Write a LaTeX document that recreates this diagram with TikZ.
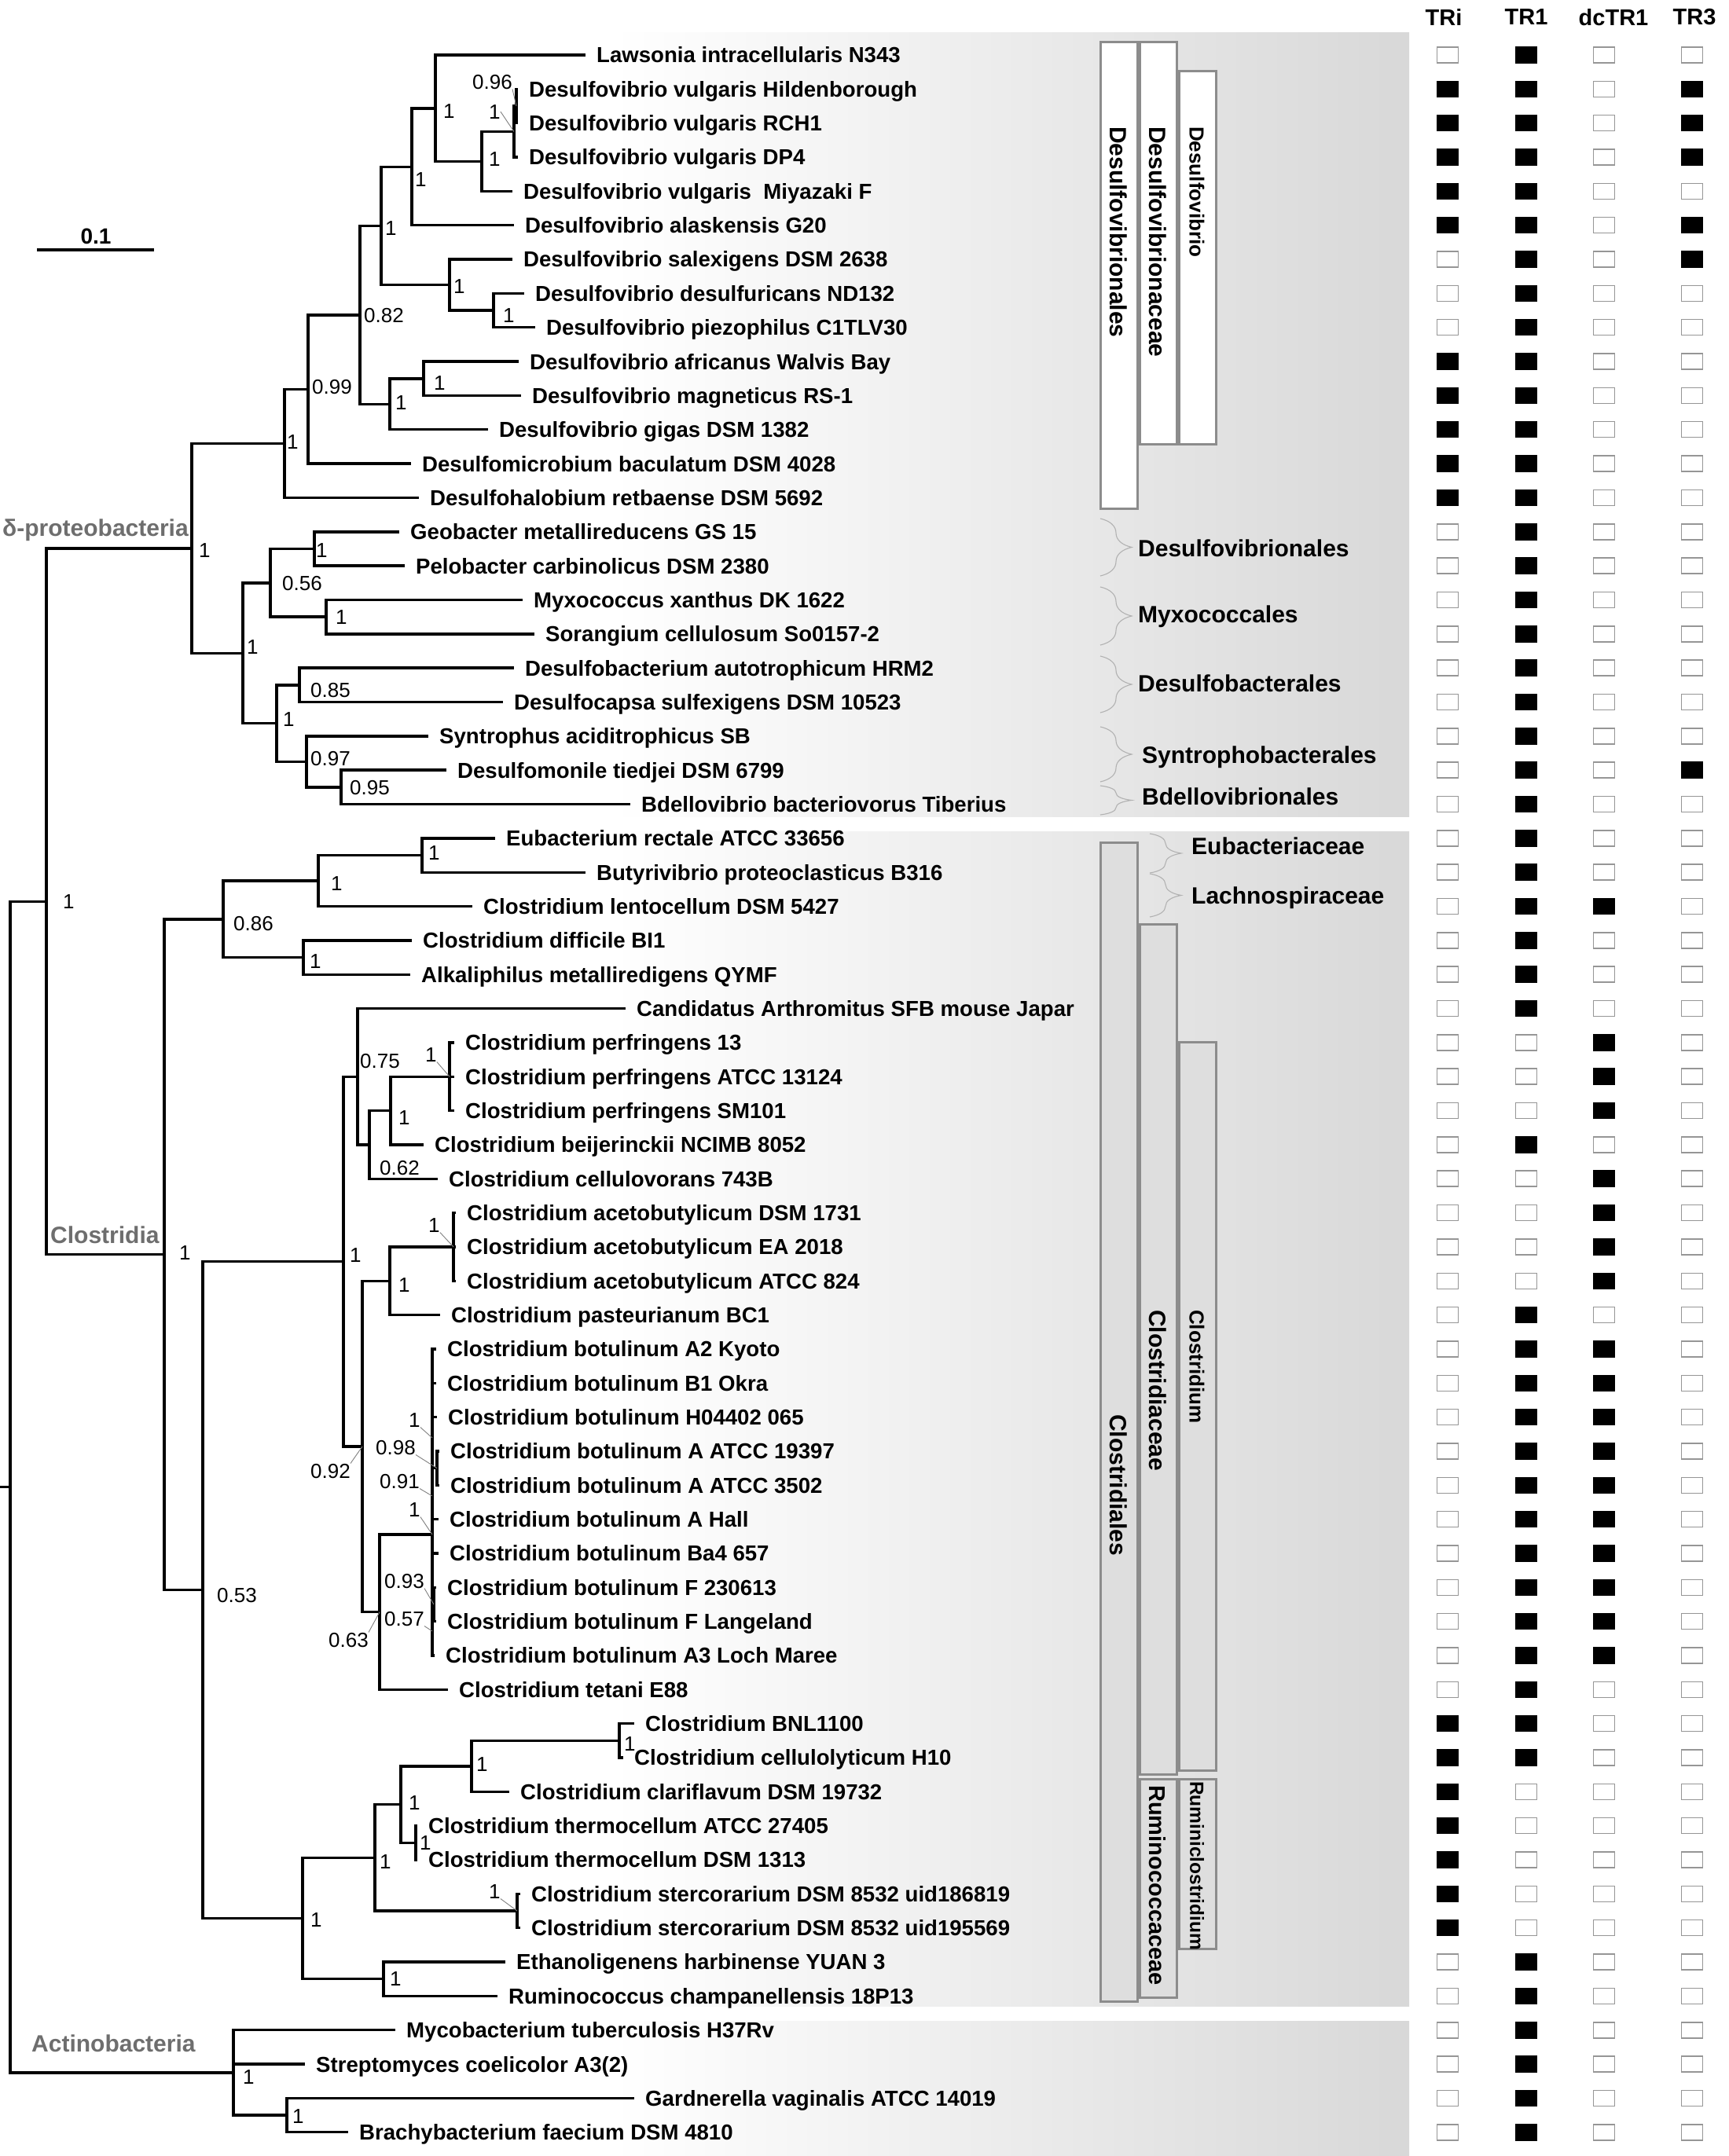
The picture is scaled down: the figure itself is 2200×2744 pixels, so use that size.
\documentclass[tikz,border=0pt]{standalone}
\usepackage{fontspec}
\setmainfont{Liberation Sans}
\usepackage{xcolor}
\usetikzlibrary{decorations.pathreplacing}

\definecolor{cladegray}{RGB}{110,110,110}
\definecolor{bargray}{RGB}{140,140,140}
\definecolor{barfill}{RGB}{222,222,222}
\definecolor{panelgray}{RGB}{216,216,216}
\definecolor{boxgray}{RGB}{150,150,150}
\colorlet{c0}{white}
\colorlet{c1}{black}
\colorlet{d0}{boxgray}
\colorlet{d1}{black}

\begin{document}
\begin{tikzpicture}[x=1pt, y=-1pt,
    leaf/.style={anchor=west, inner xsep=14pt, inner ysep=0pt, text height=19.8pt, text depth=0pt, font=\bfseries\fontsize{27.6}{30}\selectfont},
    boot/.style={anchor=west, inner sep=0pt, text height=18.6pt, text depth=0pt, font=\fontsize{26}{28}\selectfont},
    branch/.style={line width=3.4pt},
    leader/.style={draw=gray, line width=0.9pt},
    clade/.style={anchor=west, inner sep=0pt, text height=21.5pt, text depth=0pt, text=cladegray, font=\bfseries\fontsize{30}{32}\selectfont},
    group/.style={anchor=west, inner sep=0pt, text height=21.5pt, text depth=0pt, font=\bfseries\fontsize{30}{32}\selectfont},
    gbrace/.style={decorate, decoration={brace, amplitude=40pt}, draw=gray!60, line width=1.1pt},
    taxbar/.style={draw=bargray, line width=3pt},
    bartext/.style={rotate=-90, anchor=west, inner sep=0pt, text height=21.5pt, text depth=0pt, font=\bfseries\fontsize{30}{32}\selectfont},
    cbox/.style={minimum width=27pt, minimum height=20pt, inner sep=0pt, line width=1.5pt},
    head/.style={inner sep=0pt, font=\bfseries\fontsize{29}{30}\selectfont}]

    \fill[white] (0,0) rectangle (2200,2744);
    \useasboundingbox (0,0) rectangle (2200,2744);

    % Background panels
    \shade[left color=white, right color=panelgray] (780,41) rectangle (1793,1039);
    \shade[left color=white, right color=panelgray] (780,1058) rectangle (1793,2553);
    \shade[left color=white, right color=panelgray] (780,2572) rectangle (1793,2744);

    % Scale bar
    \node[font=\bfseries\fontsize{28}{30}\selectfont, inner sep=0pt] (sblabel) at (122,301) {0.1};
    \coordinate (sbA) at (47,318);
    \coordinate (sbB) at (196,318);
    \draw[line width=4pt] (sbA) -- (sbB);

    % Leaves
    \node[leaf] (l1) at (745,70.0) {Lawsonia intracellularis N343};
    \node[leaf] (l2) at (659,113.3) {Desulfovibrio vulgaris Hildenborough};
    \node[leaf] (l3) at (659,156.7) {Desulfovibrio vulgaris RCH1};
    \node[leaf] (l4) at (659,200.0) {Desulfovibrio vulgaris DP4};
    \node[leaf] (l5) at (652,243.4) {Desulfovibrio vulgaris\ \ Miyazaki F};
    \node[leaf] (l6) at (654,286.7) {Desulfovibrio alaskensis G20};
    \node[leaf] (l7) at (652,330.0) {Desulfovibrio salexigens DSM 2638};
    \node[leaf] (l8) at (667,373.4) {Desulfovibrio desulfuricans ND132};
    \node[leaf] (l9) at (681,416.7) {Desulfovibrio piezophilus C1TLV30};
    \node[leaf] (l10) at (660,460.1) {Desulfovibrio africanus Walvis Bay};
    \node[leaf] (l11) at (663,503.4) {Desulfovibrio magneticus RS-1};
    \node[leaf] (l12) at (621,546.7) {Desulfovibrio gigas DSM 1382};
    \node[leaf] (l13) at (523,590.1) {Desulfomicrobium baculatum DSM 4028};
    \node[leaf] (l14) at (533,633.4) {Desulfohalobium retbaense DSM 5692};
    \node[leaf] (l15) at (508,676.8) {Geobacter metallireducens GS 15};
    \node[leaf] (l16) at (515,720.1) {Pelobacter carbinolicus DSM 2380};
    \node[leaf] (l17) at (665,763.4) {Myxococcus xanthus DK 1622};
    \node[leaf] (l18) at (680,806.8) {Sorangium cellulosum So0157-2};
    \node[leaf] (l19) at (654,850.1) {Desulfobacterium autotrophicum HRM2};
    \node[leaf] (l20) at (640,893.5) {Desulfocapsa sulfexigens DSM 10523};
    \node[leaf] (l21) at (545,936.8) {Syntrophus aciditrophicus SB};
    \node[leaf] (l22) at (568,980.1) {Desulfomonile tiedjei DSM 6799};
    \node[leaf] (l23) at (802,1023.5) {Bdellovibrio bacteriovorus Tiberius};
    \node[leaf] (l24) at (630,1066.8) {Eubacterium rectale ATCC 33656};
    \node[leaf] (l25) at (745,1110.2) {Butyrivibrio proteoclasticus B316};
    \node[leaf] (l26) at (601,1153.5) {Clostridium lentocellum DSM 5427};
    \node[leaf] (l27) at (524,1196.8) {Clostridium difficile BI1};
    \node[leaf] (l28) at (522,1240.2) {Alkaliphilus metalliredigens QYMF};
    \node[leaf] (l29) at (796,1283.5) {Candidatus Arthromitus SFB mouse Japar};
    \node[leaf] (l30) at (578,1326.9) {Clostridium perfringens 13};
    \node[leaf] (l31) at (578,1370.2) {Clostridium perfringens ATCC 13124};
    \node[leaf] (l32) at (578,1413.5) {Clostridium perfringens SM101};
    \node[leaf] (l33) at (539,1456.9) {Clostridium beijerinckii NCIMB 8052};
    \node[leaf] (l34) at (557,1500.2) {Clostridium cellulovorans 743B};
    \node[leaf] (l35) at (580,1543.6) {Clostridium acetobutylicum DSM 1731};
    \node[leaf] (l36) at (580,1586.9) {Clostridium acetobutylicum EA 2018};
    \node[leaf] (l37) at (580,1630.2) {Clostridium acetobutylicum ATCC 824};
    \node[leaf] (l38) at (560,1673.6) {Clostridium pasteurianum BC1};
    \node[leaf] (l39) at (555,1716.9) {Clostridium botulinum A2 Kyoto};
    \node[leaf] (l40) at (555,1760.3) {Clostridium botulinum B1 Okra};
    \node[leaf] (l41) at (556,1803.6) {Clostridium botulinum H04402 065};
    \node[leaf] (l42) at (559,1846.9) {Clostridium botulinum A ATCC 19397};
    \node[leaf] (l43) at (559,1890.3) {Clostridium botulinum A ATCC 3502};
    \node[leaf] (l44) at (558,1933.6) {Clostridium botulinum A Hall};
    \node[leaf] (l45) at (558,1977.0) {Clostridium botulinum Ba4 657};
    \node[leaf] (l46) at (555,2020.3) {Clostridium botulinum F 230613};
    \node[leaf] (l47) at (555,2063.6) {Clostridium botulinum F Langeland};
    \node[leaf] (l48) at (553,2107.0) {Clostridium botulinum A3 Loch Maree};
    \node[leaf] (l49) at (570,2150.3) {Clostridium tetani E88};
    \node[leaf] (l50) at (807,2193.7) {Clostridium BNL1100};
    \node[leaf] (l51) at (793,2237.0) {Clostridium cellulolyticum H10};
    \node[leaf] (l52) at (648,2280.3) {Clostridium clariflavum DSM 19732};
    \node[leaf] (l53) at (531,2323.7) {Clostridium thermocellum ATCC 27405};
    \node[leaf] (l54) at (531,2367.0) {Clostridium thermocellum DSM 1313};
    \node[leaf] (l55) at (662,2410.4) {Clostridium stercorarium DSM 8532 uid186819};
    \node[leaf] (l56) at (662,2453.7) {Clostridium stercorarium DSM 8532 uid195569};
    \node[leaf] (l57) at (643,2497.0) {Ethanoligenens harbinense YUAN 3};
    \node[leaf] (l58) at (633,2540.4) {Ruminococcus champanellensis 18P13};
    \node[leaf] (l59) at (503,2583.7) {Mycobacterium tuberculosis H37Rv};
    \node[leaf] (l60) at (388,2627.1) {Streptomyces coelicolor A3(2)};
    \node[leaf] (l61) at (807,2670.4) {Gardnerella vaginalis ATCC 14019};
    \node[leaf] (l62) at (443,2713.7) {Brachybacterium faecium DSM 4810};

    % Internal nodes
    \coordinate (rstub) at (0,1892.5);
    \coordinate (r0) at (13,1892.5);
    \coordinate (nDC) at (59,1147.2);
    \coordinate (nDelta) at (244,697.8);
    \coordinate (nDsv) at (362,564.4);
    \coordinate (nDsv2) at (392,495.4);
    \coordinate (nDsv3) at (458,400.8);
    \coordinate (nV1) at (485,287.4);
    \coordinate (nV2) at (524,212.2);
    \coordinate (nLaw) at (554,137.8);
    \coordinate (nVul) at (613,205.5);
    \coordinate (nVul2) at (654,167.5);
    \coordinate (nHR) at (657,135.0);
    \coordinate (nSal) at (572,362.5);
    \coordinate (nDes) at (628,395.0);
    \coordinate (nAfr) at (496,514.2);
    \coordinate (nAfr2) at (539,481.8);
    \coordinate (nOth) at (309,831.2);
    \coordinate (nGPMS) at (344,741.8);
    \coordinate (nGP) at (400,698.4);
    \coordinate (nMS) at (415,785.1);
    \coordinate (nDS) at (352,920.5);
    \coordinate (nDbc) at (381,871.8);
    \coordinate (nSyn) at (390,969.3);
    \coordinate (nDmB) at (434,1001.8);
    \coordinate (nClos) at (209,1596.7);
    \coordinate (nLD) at (284,1169.8);
    \coordinate (nLach) at (405,1121.0);
    \coordinate (nEB) at (537,1088.5);
    \coordinate (nDA) at (386,1218.5);
    \coordinate (nCR) at (258,2023.5);
    \coordinate (nClo) at (437,1605.6);
    \coordinate (nCand) at (455,1370.2);
    \coordinate (nPBC) at (470,1456.9);
    \coordinate (nPB) at (497,1413.6);
    \coordinate (nPerf) at (572,1370.2);
    \coordinate (nCA) at (461,1841.0);
    \coordinate (nAP) at (496,1630.3);
    \coordinate (nAceto) at (577,1586.9);
    \coordinate (nBT) at (483,2051.7);
    \coordinate (nBot) at (550,1953.0);
    \coordinate (nAA) at (556,1868.6);
    \coordinate (nFF) at (552,2042.0);
    \coordinate (nRum) at (385,2441.5);
    \coordinate (nRum1) at (477,2364.3);
    \coordinate (nBCT) at (510,2296.6);
    \coordinate (nBC) at (600,2247.8);
    \coordinate (nBNL) at (788,2215.3);
    \coordinate (nTh) at (529,2345.4);
    \coordinate (nSte) at (658,2432.0);
    \coordinate (nER) at (488,2518.7);
    \coordinate (nAct) at (297,2637.9);
    \coordinate (nAB) at (365,2692.0);

    % Branches
    \draw[branch] (rstub) -- (r0);
    \draw[branch] (r0) |- (nDC) (r0) |- (nAct);
    \draw[branch] (nDC) |- (nDelta) (nDC) |- (nClos);
    \draw[branch] (nDelta) |- (nDsv) (nDelta) |- (nOth);
    \draw[branch] (nDsv) |- (nDsv2) (nDsv) |- (l14.west);
    \draw[branch] (nDsv2) |- (nDsv3) (nDsv2) |- (l13.west);
    \draw[branch] (nDsv3) |- (nV1) (nDsv3) |- (nAfr);
    \draw[branch] (nV1) |- (nV2) (nV1) |- (nSal);
    \draw[branch] (nV2) |- (nLaw) (nV2) |- (l6.west);
    \draw[branch] (nLaw) |- (l1.west) (nLaw) |- (nVul);
    \draw[branch] (nVul) |- (nVul2) (nVul) |- (l5.west);
    \draw[branch] (nVul2) |- (nHR) (nVul2) |- (l4.west);
    \draw[branch] (nHR) |- (l2.west) (nHR) |- (l3.west);
    \draw[branch] (nSal) |- (l7.west) (nSal) |- (nDes);
    \draw[branch] (nDes) |- (l8.west) (nDes) |- (l9.west);
    \draw[branch] (nAfr) |- (nAfr2) (nAfr) |- (l12.west);
    \draw[branch] (nAfr2) |- (l10.west) (nAfr2) |- (l11.west);
    \draw[branch] (nOth) |- (nGPMS) (nOth) |- (nDS);
    \draw[branch] (nGPMS) |- (nGP) (nGPMS) |- (nMS);
    \draw[branch] (nGP) |- (l15.west) (nGP) |- (l16.west);
    \draw[branch] (nMS) |- (l17.west) (nMS) |- (l18.west);
    \draw[branch] (nDS) |- (nDbc) (nDS) |- (nSyn);
    \draw[branch] (nDbc) |- (l19.west) (nDbc) |- (l20.west);
    \draw[branch] (nSyn) |- (l21.west) (nSyn) |- (nDmB);
    \draw[branch] (nDmB) |- (l22.west) (nDmB) |- (l23.west);
    \draw[branch] (nClos) |- (nLD) (nClos) |- (nCR);
    \draw[branch] (nLD) |- (nLach) (nLD) |- (nDA);
    \draw[branch] (nLach) |- (nEB) (nLach) |- (l26.west);
    \draw[branch] (nEB) |- (l24.west) (nEB) |- (l25.west);
    \draw[branch] (nDA) |- (l27.west) (nDA) |- (l28.west);
    \draw[branch] (nCR) |- (nClo) (nCR) |- (nRum);
    \draw[branch] (nClo) |- (nCand) (nClo) |- (nCA);
    \draw[branch] (nCand) |- (l29.west) (nCand) |- (nPBC);
    \draw[branch] (nPBC) |- (nPB) (nPBC) |- (l34.west);
    \draw[branch] (nPB) |- (nPerf) (nPB) |- (l33.west);
    \draw[branch] (nPerf) |- (l30.west) (nPerf) |- (l31.west) (nPerf) |- (l32.west);
    \draw[branch] (nCA) |- (nAP) (nCA) |- (nBT);
    \draw[branch] (nAP) |- (nAceto) (nAP) |- (l38.west);
    \draw[branch] (nAceto) |- (l35.west) (nAceto) |- (l36.west) (nAceto) |- (l37.west);
    \draw[branch] (nBT) |- (nBot) (nBT) |- (l49.west);
    \draw[branch] (nBot) |- (l39.west) (nBot) |- (l40.west) (nBot) |- (l41.west) (nBot) |- (nAA)
                  (nBot) |- (l44.west) (nBot) |- (l45.west) (nBot) |- (nFF) (nBot) |- (l48.west);
    \draw[branch] (nAA) |- (l42.west) (nAA) |- (l43.west);
    \draw[branch] (nFF) |- (l46.west) (nFF) |- (l47.west);
    \draw[branch] (nRum) |- (nRum1) (nRum) |- (nER);
    \draw[branch] (nRum1) |- (nBCT) (nRum1) |- (nSte);
    \draw[branch] (nBCT) |- (nBC) (nBCT) |- (nTh);
    \draw[branch] (nBC) |- (nBNL) (nBC) |- (l52.west);
    \draw[branch] (nBNL) |- (l50.west) (nBNL) |- (l51.west);
    \draw[branch] (nTh) |- (l53.west) (nTh) |- (l54.west);
    \draw[branch] (nSte) |- (l55.west) (nSte) |- (l56.west);
    \draw[branch] (nER) |- (l57.west) (nER) |- (l58.west);
    \draw[branch] (nAct) |- (l59.west) (nAct) |- (l60.west) (nAct) |- (nAB);
    \draw[branch] (nAB) |- (l61.west) (nAB) |- (l62.west);

    % Support values
    \node[boot] (bLaw) at (564,141) {1};
    \node[boot] (bVul) at (622,202) {1};
    \node[boot] (bHR) at (601,104) {0.96};
    \node[boot] (bVul2) at (622,142) {1};
    \node[boot] (bV2) at (528,228) {1};
    \node[boot] (bV1) at (490,290) {1};
    \node[boot] (bSal) at (577,364) {1};
    \node[boot] (bDes) at (640,401) {1};
    \node[boot] (bDsv3) at (463,401) {0.82};
    \node[boot] (bAfr) at (503,512) {1};
    \node[boot] (bAfr2) at (552,487) {1};
    \node[boot] (bDsv2) at (397,492) {0.99};
    \node[boot] (bDsv) at (365,562) {1};
    \node[boot] (bDelta) at (253,700) {1};
    \node[boot] (bGP) at (402,700) {1};
    \node[boot] (bGPMS) at (359,742) {0.56};
    \node[boot] (bMS) at (427,785) {1};
    \node[boot] (bOth) at (314,823) {1};
    \node[boot] (bDbc) at (395,878) {0.85};
    \node[boot] (bDS) at (360,915) {1};
    \node[boot] (bSyn) at (395,965) {0.97};
    \node[boot] (bDmB) at (445,1002) {0.95};
    \node[boot] (bEB) at (545,1085) {1};
    \node[boot] (bLach) at (421,1124) {1};
    \node[boot] (bLD) at (297,1175) {0.86};
    \node[boot] (bDA) at (394,1223) {1};
    \node[boot] (bDC) at (80,1147) {1};
    \node[boot] (bClos) at (228,1594) {1};
    \node[boot] (bCand) at (458,1350) {0.75};
    \node[boot] (bPerf) at (541,1342) {1};
    \node[boot] (bPB) at (507,1422) {1};
    \node[boot] (bPBC) at (483,1486) {0.62};
    \node[boot] (bClo) at (445,1597) {1};
    \node[boot] (bAceto) at (545,1559) {1};
    \node[boot] (bAP) at (507,1635) {1};
    \node[boot] (bCA) at (395,1872) {0.92};
    \node[boot] (bBotA) at (520,1807) {1};
    \node[boot] (bBotB) at (478,1842) {0.98};
    \node[boot] (bBotC) at (483,1885) {0.91};
    \node[boot] (bBotD) at (520,1921) {1};
    \node[boot] (bBotE) at (489,2012) {0.93};
    \node[boot] (bBotF) at (489,2060) {0.57};
    \node[boot] (bBT) at (418,2087) {0.63};
    \node[boot] (bCR) at (276,2030) {0.53};
    \node[boot] (bBC) at (606,2245) {1};
    \node[boot] (bBNL) at (794,2219) {1};
    \node[boot] (bBCT) at (520,2294) {1};
    \node[boot] (bTh) at (534,2345) {1};
    \node[boot] (bRum1) at (483,2369) {1};
    \node[boot] (bSte) at (622,2407) {1};
    \node[boot] (bRum) at (395,2443) {1};
    \node[boot] (bER) at (496,2518) {1};
    \node[boot] (bAct) at (309,2643) {1};
    \node[boot] (bAB) at (372,2693) {1};

    % Leader lines
    \coordinate (kBotA) at (550,1830);
    \coordinate (kBotC) at (550,1904);
    \coordinate (kBotF) at (550,2076);
    \draw[leader] (bHR.south east) -- (nHR);
    \draw[leader] (bVul2.east) -- (nVul2);
    \draw[leader] (bPerf.south east) -- (nPerf);
    \draw[leader] (bAceto.south east) -- (nAceto);
    \draw[leader] (bCA.north east) -- (nCA);
    \draw[leader] (bBotA.south east) -- (kBotA);
    \draw[leader] (bBotB.south east) -- (nAA);
    \draw[leader] (bBotC.south east) -- (kBotC);
    \draw[leader] (bBotD.south east) -- (nBot);
    \draw[leader] (bBotE.south east) -- (nFF);
    \draw[leader] (bBotF.south east) -- (kBotF);
    \draw[leader] (bBT.north east) -- (nBT);
    \draw[leader] (bSte.south east) -- (nSte);

    % Clade names
    \node[clade] (cDelta) at (3,672) {δ-proteobacteria};
    \node[clade] (cClos) at (64,1572) {Clostridia};
    \node[clade] (cAct) at (40,2601) {Actinobacteria};

    % Order / family brackets
    \node[group] (g1) at (1448,698) {Desulfovibrionales};
    \node[group] (g2) at (1448,782) {Myxococcales};
    \node[group] (g3) at (1448,870) {Desulfobacterales};
    \node[group] (g4) at (1453,961) {Syntrophobacterales};
    \node[group] (g5) at (1453,1014) {Bdellovibrionales};
    \node[group] (g6) at (1516,1077) {Eubacteriaceae};
    \node[group] (g7) at (1516,1140) {Lachnospiraceae};
    \draw[gbrace] ([shift={(-48,-38)}]g1.west) -- ([shift={(-48,35)}]g1.west);
    \draw[gbrace] ([shift={(-48,-35)}]g2.west) -- ([shift={(-48,39)}]g2.west);
    \draw[gbrace] ([shift={(-48,-35)}]g3.west) -- ([shift={(-48,37)}]g3.west);
    \draw[gbrace] ([shift={(-53,-36)}]g4.west) -- ([shift={(-53,34)}]g4.west);
    \draw[gbrace] ([shift={(-53,-14)}]g5.west) -- ([shift={(-53,23)}]g5.west);
    \draw[gbrace] ([shift={(-53,-16)}]g6.west) -- ([shift={(-53,34)}]g6.west);
    \draw[gbrace] ([shift={(-53,-28)}]g7.west) -- ([shift={(-53,27)}]g7.west);

    % Taxonomy bars
    \draw[taxbar, fill=white] (1400,53) rectangle (1447,647);
    \draw[taxbar, fill=white] (1450,53) rectangle (1497,565);
    \draw[taxbar, fill=white] (1500,90) rectangle (1547,565);
    \draw[taxbar, fill=barfill] (1400,1072) rectangle (1447,2547);
    \draw[taxbar, fill=barfill] (1450,1176) rectangle (1497,2258);
    \draw[taxbar, fill=barfill] (1500,1326) rectangle (1547,2253);
    \draw[taxbar, fill=barfill] (1450,2264) rectangle (1497,2542);
    \draw[taxbar, fill=barfill] (1500,2264) rectangle (1547,2480);
    \node[bartext] (tA) at (1423,161) {Desulfovibrionales};
    \node[bartext] (tB) at (1473,161) {Desulfovibrionaceae};
    \node[bartext, text height=18.6pt, font=\bfseries\fontsize{26}{28}\selectfont] (tC) at (1523,161) {Desulfovibrio};
    \node[bartext] (tD) at (1423,1800) {Clostridiales};
    \node[bartext] (tE) at (1473,1667) {Clostridiaceae};
    \node[bartext, text height=18.6pt, font=\bfseries\fontsize{26}{28}\selectfont] (tF) at (1523,1667) {Clostridium};
    \node[bartext, text height=20.8pt, font=\bfseries\fontsize{29}{30}\selectfont] (tG) at (1473,2272) {Ruminococcaceae};
    \node[bartext, text height=17.5pt, font=\bfseries\fontsize{24.5}{26}\selectfont] (tH) at (1523,2267) {Ruminiclostridium};

    % Gene columns
    \node[head] (hTRi) at (1837,22) {TRi};
    \node[head] (hTRone) at (1942,22) {TR1};
    \node[head] (hdcTR) at (2053,22) {dcTR1};
    \node[head] (hTRthree) at (2156,22) {TR3};
    \foreach \r/\a/\b/\c/\d in {1/0/1/0/0, 2/1/1/0/1, 3/1/1/0/1, 4/1/1/0/1, 5/1/1/0/0, 6/1/1/0/1, 7/0/1/0/1,
        8/0/1/0/0, 9/0/1/0/0, 10/1/1/0/0, 11/1/1/0/0, 12/1/1/0/0, 13/1/1/0/0, 14/1/1/0/0,
        15/0/1/0/0, 16/0/1/0/0, 17/0/1/0/0, 18/0/1/0/0, 19/0/1/0/0, 20/0/1/0/0, 21/0/1/0/0,
        22/0/1/0/1, 23/0/1/0/0, 24/0/1/0/0, 25/0/1/0/0, 26/0/1/1/0, 27/0/1/0/0, 28/0/1/0/0,
        29/0/1/0/0, 30/0/0/1/0, 31/0/0/1/0, 32/0/0/1/0, 33/0/1/0/0, 34/0/0/1/0, 35/0/0/1/0,
        36/0/0/1/0, 37/0/0/1/0, 38/0/1/0/0, 39/0/1/1/0, 40/0/1/1/0, 41/0/1/1/0, 42/0/1/1/0,
        43/0/1/1/0, 44/0/1/1/0, 45/0/1/1/0, 46/0/1/1/0, 47/0/1/1/0, 48/0/1/1/0, 49/0/1/0/0,
        50/1/1/0/0, 51/1/1/0/0, 52/1/0/0/0, 53/1/0/0/0, 54/1/0/0/0, 55/1/0/0/0, 56/1/0/0/0,
        57/0/1/0/0, 58/0/1/0/0, 59/0/1/0/0, 60/0/1/0/0, 61/0/1/0/0, 62/0/1/0/0} {
        \node[cbox, fill=c\a, draw=d\a] (tri\r) at (1842,{70+43.34*(\r-1)}) {};
        \node[cbox, fill=c\b, draw=d\b] (trone\r) at (1942,{70+43.34*(\r-1)}) {};
        \node[cbox, fill=c\c, draw=d\c] (dctr\r) at (2041,{70+43.34*(\r-1)}) {};
        \node[cbox, fill=c\d, draw=d\d] (trthree\r) at (2153,{70+43.34*(\r-1)}) {};
    }
\end{tikzpicture}
\end{document}
